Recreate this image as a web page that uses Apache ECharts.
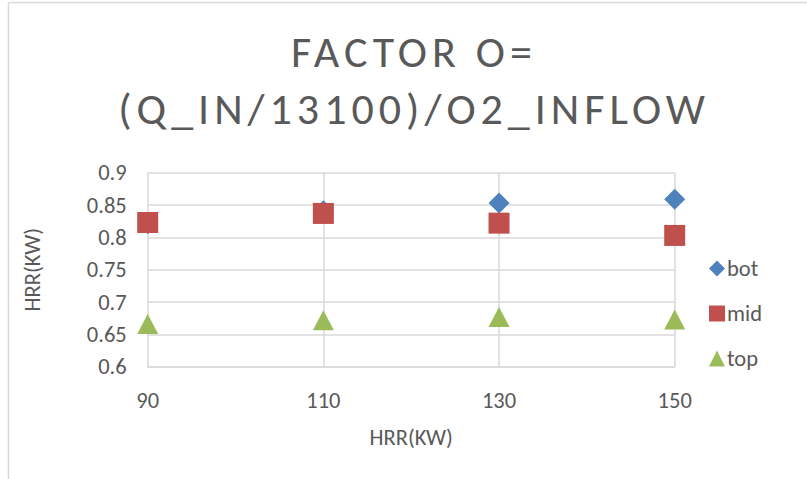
<!DOCTYPE html>
<html>
<head>
<meta charset="utf-8">
<script src="https://cdn.jsdelivr.net/npm/echarts@6/dist/echarts.min.js"></script>
<style>
  html, body { margin: 0; padding: 0; background: #ffffff; }
  #chart { width: 807px; height: 479px; }
</style>
</head>
<body>
<div id="chart"></div>
<script>
// HRR categories on the x axis
const hrrLabels = ['90', '110', '130', '150'];

// Oxygen factor per sensor position
const botValues = [0.821, 0.841, 0.853, 0.859];
const midValues = [0.823, 0.837, 0.822, 0.803];
const topValues = [0.666, 0.672, 0.677, 0.673];

const titleLines = ['FACTOR O=', '(Q_IN/13100)/O2_INFLOW'];

const FONT = "Carlito, 'Liberation Sans Narrow', 'Open Sans', sans-serif";
const TEXT = '#595959';
const GRID = '#d9d9d9';

const chart = echarts.init(document.getElementById('chart'), null, { renderer: 'svg' });

function pointsOf(values) {
  return values.map((v, i) => [hrrLabels[i], v]);
}

chart.setOption({
  backgroundColor: '#ffffff',
  animation: false,
  title: {
    text: titleLines.join('\n'),
    left: 409,
    top: 18,
    textAlign: 'center',
    textStyle: {
      fontFamily: FONT,
      fontWeight: 'normal',
      fontSize: 44,
      lineHeight: 57,
      color: TEXT
    }
  },
  graphic: [
    { type: 'line', shape: { x1: 8.5, y1: 2.5, x2: 8.5, y2: 479 }, style: { stroke: GRID, lineWidth: 1.5 } },
    { type: 'line', shape: { x1: 8.5, y1: 2.5, x2: 807, y2: 2.5 }, style: { stroke: GRID, lineWidth: 1.5 } }
  ],
  legend: {
    orient: 'vertical',
    left: 704,
    top: 252,
    itemWidth: 16,
    itemHeight: 16,
    itemGap: 22,
    textStyle: { fontFamily: FONT, fontSize: 22.5, color: TEXT, padding: [0, 0, 0, -3] },
    data: ['bot', 'mid', 'top']
  },
  grid: { left: 147.7, right: 132.3, top: 172.7, bottom: 112.3, containLabel: false },
  xAxis: {
    type: 'category',
    data: hrrLabels,
    boundaryGap: false,
    name: 'HRR(KW)',
    nameLocation: 'middle',
    nameGap: 59,
    nameTextStyle: { fontFamily: FONT, fontSize: 22.5, color: TEXT },
    axisLine: { lineStyle: { color: GRID, width: 1.5 } },
    axisTick: { show: false },
    axisLabel: { fontFamily: FONT, fontSize: 22.5, color: TEXT, margin: 22 },
    splitLine: { show: true, lineStyle: { color: GRID, width: 1.5 } }
  },
  yAxis: {
    type: 'value',
    min: 0.6,
    max: 0.9,
    interval: 0.05,
    name: 'HRR(KW)',
    nameLocation: 'middle',
    nameGap: 104,
    nameTextStyle: { fontFamily: FONT, fontSize: 22.5, color: TEXT },
    axisLine: { show: false },
    axisTick: { show: false },
    axisLabel: {
      fontFamily: FONT, fontSize: 22.5, color: TEXT, margin: 21,
      formatter: v => String(parseFloat(v.toFixed(2)))
    },
    splitLine: { show: true, lineStyle: { color: GRID, width: 1.5 } }
  },
  series: [
    {
      name: 'bot', type: 'scatter', symbol: 'diamond', symbolSize: 21,
      itemStyle: { color: '#4F81BD', opacity: 1 }, data: pointsOf(botValues)
    },
    {
      name: 'mid', type: 'scatter', symbol: 'rect', symbolSize: 21,
      itemStyle: { color: '#C0504D', opacity: 1 }, data: pointsOf(midValues)
    },
    {
      name: 'top', type: 'scatter', symbol: 'triangle', symbolSize: [21, 20],
      itemStyle: { color: '#9BBB59', opacity: 1 }, data: pointsOf(topValues)
    }
  ]
});

// The chart title is set in widely tracked capitals
document.querySelectorAll('#chart svg text').forEach(el => {
  if (titleLines.includes(el.textContent)) {
    el.style.letterSpacing = '5px';
  }
});
</script>
</body>
</html>
